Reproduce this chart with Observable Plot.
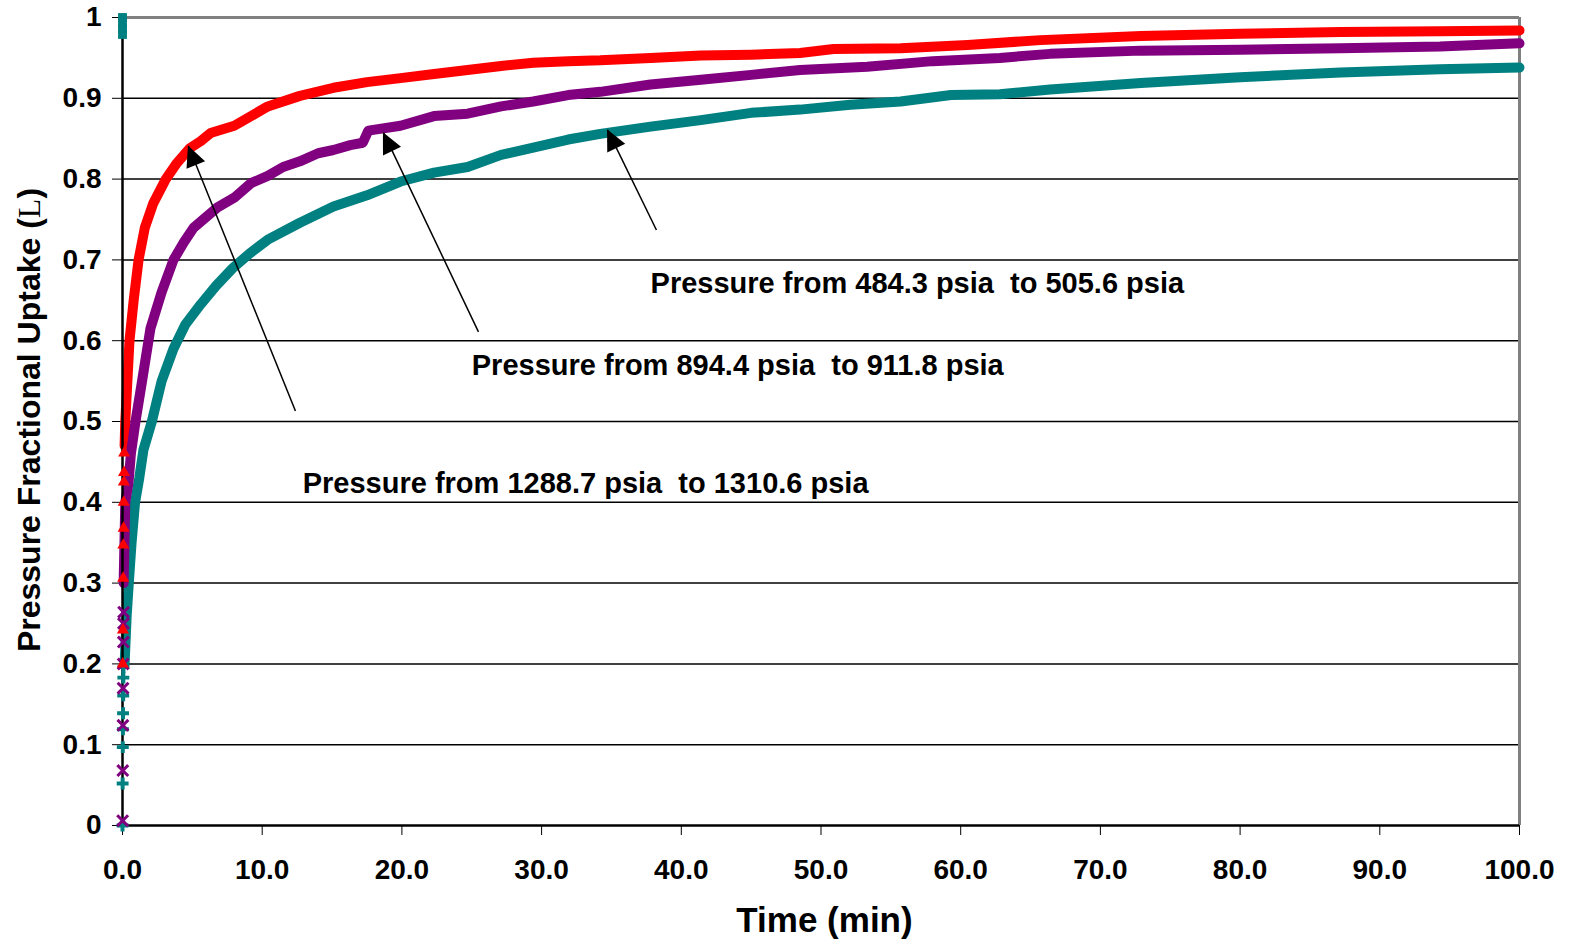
<!DOCTYPE html>
<html><head><meta charset="utf-8">
<script src="https://cdn.jsdelivr.net/npm/d3@7"></script>
<script src="https://cdn.jsdelivr.net/npm/@observablehq/plot@0.6"></script>
<style>
html,body{margin:0;padding:0;background:#fff;}
svg{display:block}
</style>
</head><body><div id="chart"></div>
<script>
// ---- Data ----
const xTicks = [0,10,20,30,40,50,60,70,80,90,100];
const yTicks = [0,0.1,0.2,0.3,0.4,0.5,0.6,0.7,0.8,0.9,1];
const gridValues = [0.1,0.2,0.3,0.4,0.5,0.6,0.7,0.8,0.9];

// Series: pressure 484.3 -> 505.6 psia (red)
const redT = [0.15,0.2,0.35,0.5,0.8,1.15,1.6,2.2,3.1,3.9,4.8,5.6,6.3,8.0,10.4,12.7,15.1,17.5,19.9,22.3,24.7,27.1,29.4,31.9,34.2,37.8,41.4,45,48.5,50.9,55.7,60.5,65.7,72.9,80,87.2,94.3,100];
const redV = [0.47,0.5,0.55,0.6,0.65,0.7,0.74,0.77,0.8,0.82,0.838,0.847,0.857,0.866,0.89,0.903,0.913,0.92,0.925,0.93,0.935,0.94,0.944,0.946,0.947,0.95,0.953,0.954,0.956,0.961,0.962,0.966,0.972,0.977,0.98,0.982,0.983,0.984];
const redEarlyT = [0.02,0.03,0.05,0.06,0.08,0.09,0.1,0.11,0.12];
const redEarlyV = [0.2,0.242,0.306,0.347,0.368,0.4,0.425,0.437,0.461];

// Series: pressure 894.4 -> 911.8 psia (purple)
const purpleT = [0.08,0.2,0.43,0.6,0.93,1.4,2.0,2.8,3.65,4.4,5.1,6.8,8.0,9.2,10.4,11.5,12.7,14.0,15.1,16.3,17.2,17.6,19.9,22.3,24.7,27.1,29.4,31.9,34.2,37.8,41.4,45,48.5,53.3,58,62.8,66.4,72.9,80,87.2,94.3,100];
const purpleV = [0.3,0.4,0.424,0.46,0.5,0.55,0.615,0.66,0.7,0.722,0.74,0.765,0.777,0.795,0.804,0.815,0.822,0.832,0.836,0.842,0.845,0.86,0.866,0.878,0.881,0.89,0.896,0.904,0.908,0.917,0.923,0.929,0.935,0.939,0.946,0.95,0.955,0.959,0.96,0.962,0.964,0.968];
const purpleEarlyT = [0.01,0.02,0.03,0.04,0.05,0.06,0.07,0.08];
const purpleEarlyV = [0.006,0.068,0.124,0.17,0.2,0.227,0.25,0.264];

// Series: pressure 1288.7 -> 1310.6 psia (teal)
const tealT = [0.15,0.3,0.45,0.65,0.9,1.2,1.5,2.1,2.8,3.65,4.5,5.6,6.7,7.9,9.1,10.4,12.7,15.1,17.5,19.9,22.3,24.7,27.1,29.4,31.9,34.2,37.8,41.4,45,48.5,52.1,55.7,59.3,62.8,66.4,72.9,80,87.2,94.3,100];
const tealV = [0.2,0.26,0.3,0.35,0.4,0.43,0.465,0.5,0.55,0.59,0.62,0.645,0.668,0.69,0.708,0.725,0.746,0.766,0.78,0.797,0.808,0.815,0.83,0.839,0.849,0.856,0.865,0.873,0.882,0.886,0.892,0.896,0.904,0.905,0.911,0.919,0.926,0.932,0.936,0.938];
const tealEarlyT = [0.0,0.01,0.02,0.03,0.04,0.05,0.06,0.07];
const tealEarlyV = [0.0,0.052,0.097,0.119,0.139,0.161,0.183,0.196];
const tealStartT = [0,0,0,0];
const tealStartV = [1.0,0.993,0.986,0.979];

// Annotations
const labelText = ["Pressure from 484.3 psia  to 505.6 psia","Pressure from 894.4 psia  to 911.8 psia","Pressure from 1288.7 psia  to 1310.6 psia"];
const labelT = [37.8, 25.0, 12.9];
const labelV = [0.671, 0.569, 0.423];
const arrowT1 = [38.22, 25.48, 12.38];
const arrowV1 = [0.737, 0.611, 0.513];
const arrowT2 = [34.72, 18.68, 4.72];
const arrowV2 = [0.861, 0.8575, 0.841];

const RED = "#FF0000", PURPLE = "#800080", TEAL = "#008080";

const rows = (t, v) => t.map((d, i) => ({t: d, v: v[i]}));
const labels = labelText.map((s, i) => ({s, t: labelT[i], v: labelV[i]}));
const arrows = arrowT1.map((d, i) => ({t1: d, v1: arrowV1[i], t2: arrowT2[i], v2: arrowV2[i]}));

const FONT = "'Liberation Sans', Arial, Helvetica, sans-serif";

const chart = Plot.plot({
  width: 1570, height: 944,
  marginLeft: 122, marginRight: 51, marginTop: 17, marginBottom: 119,
  style: {fontFamily: FONT, fontSize: "28px", fontWeight: "bold", background: "white", color: "#000", overflow: "visible"},
  x: {domain: [0, 100], ticks: xTicks, tickFormat: d => d.toFixed(1), tickSize: 10, tickPadding: 24, label: null},
  y: {domain: [0, 1], ticks: yTicks, tickFormat: d => (d === 0 ? "0" : d === 1 ? "1" : d.toFixed(1)), tickSize: 10, tickPadding: 11, label: null},
  marks: [
    Plot.ruleY(gridValues, {stroke: "#000", strokeWidth: 1.5}),
    Plot.ruleY([1], {stroke: "#808080", strokeWidth: 3}),
    Plot.ruleX([100], {stroke: "#808080", strokeWidth: 3}),
    Plot.line(rows(tealT, tealV), {x: "t", y: "v", stroke: TEAL, strokeWidth: 10}),
    Plot.line(rows(redT, redV), {x: "t", y: "v", stroke: RED, strokeWidth: 10}),
    Plot.line(rows(purpleT, purpleV), {x: "t", y: "v", stroke: PURPLE, strokeWidth: 10}),
    Plot.ruleX([0], {stroke: "#000", strokeWidth: 2.5}),
    Plot.ruleY([0], {stroke: "#000", strokeWidth: 2.5}),
    Plot.dot(rows(tealEarlyT, tealEarlyV), {x: "t", y: "v", symbol: "cross", r: 5, fill: TEAL, stroke: "none"}),
    Plot.dot(rows(purpleEarlyT, purpleEarlyV), {x: "t", y: "v", symbol: "times", r: 5, stroke: PURPLE, strokeWidth: 3}),
    Plot.dot(rows(redEarlyT, redEarlyV), {x: "t", y: "v", symbol: "triangle", r: 4.5, fill: RED, stroke: "none"}),
    Plot.dot(rows(tealStartT, tealStartV), {x: "t", y: "v", symbol: "square", r: 5, fill: TEAL, stroke: "none"}),
    Plot.link(arrows, {x1: "t1", y1: "v1", x2: "t2", y2: "v2", stroke: "#000", strokeWidth: 1.5}),
    Plot.text(labels, {x: "t", y: "v", text: "s", textAnchor: "start", lineAnchor: "middle", fontSize: 29, fontWeight: "bold", fill: "#000"})
  ]
});

document.getElementById("chart").appendChild(chart);

// filled arrowheads, positioned with the chart's own scales
const sx = chart.scale("x"), sy = chart.scale("y");
const svg = d3.select(chart);
arrows.forEach(a => {
  const x1 = sx.apply(a.t1), y1 = sy.apply(a.v1);
  const x2 = sx.apply(a.t2), y2 = sy.apply(a.v2);
  const dx = x2 - x1, dy = y2 - y1, L = Math.hypot(dx, dy);
  const ux = dx / L, uy = dy / L;
  const len = 21, hw = 10;
  const bx = x2 - ux * len, by = y2 - uy * len;
  const pts = [[x2, y2], [bx - uy * hw, by + ux * hw], [bx + uy * hw, by - ux * hw]];
  svg.append("polygon").attr("points", pts.map(p => p.join(",")).join(" ")).attr("fill", "#000");
});

// axis titles
svg.append("text")
  .attr("x", (sx.apply(0) + sx.apply(100)) / 2 + 4).attr("y", 932)
  .attr("text-anchor", "middle").attr("font-family", FONT).attr("font-weight", "bold").attr("font-size", 35)
  .text("Time (min)");
const yt = svg.append("text")
  .attr("transform", `translate(40,${(sy.apply(0) + sy.apply(1)) / 2 - 1}) rotate(-90)`)
  .attr("text-anchor", "middle").attr("font-family", FONT).attr("font-weight", "bold").attr("font-size", 32);
yt.append("tspan").text("Pressure Fractional Uptake (");
yt.append("tspan").attr("font-family", "'Liberation Serif', 'Times New Roman', serif").attr("font-weight", "normal").text("L");
yt.append("tspan").text(")");
</script>
</body></html>
